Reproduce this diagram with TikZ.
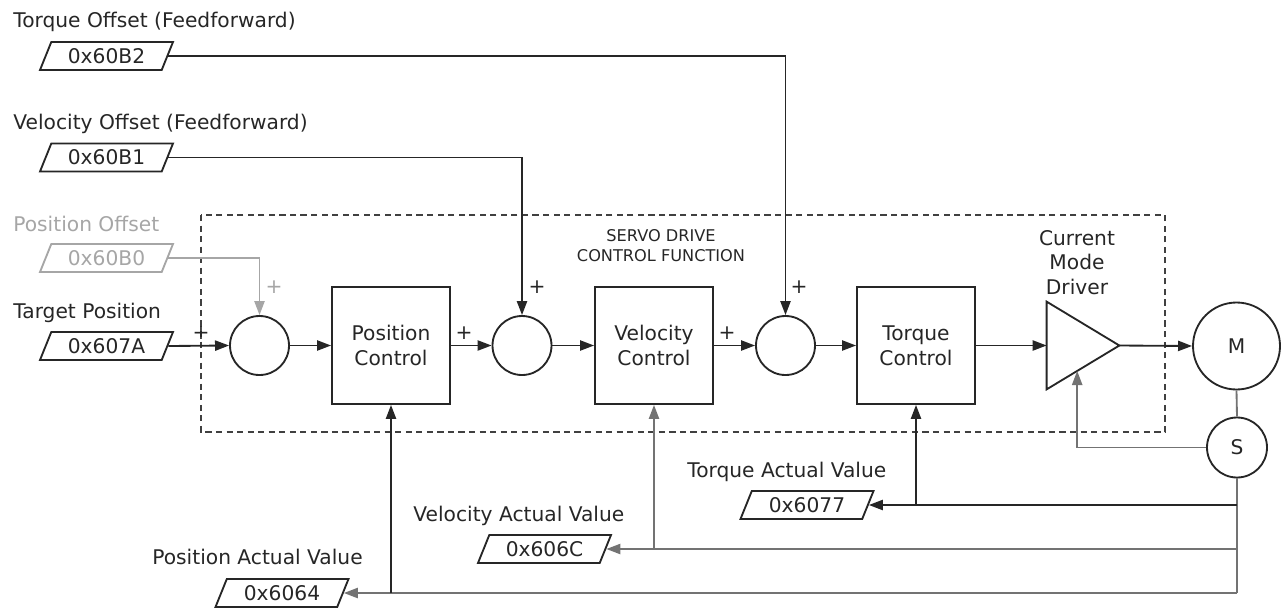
\documentclass[tikz,border=0pt]{standalone}
\usepackage{fontspec}
\setmainfont{DejaVu Sans}
\usetikzlibrary{arrows.meta,positioning,shapes.geometric,calc}

\begin{document}
\begin{tikzpicture}[
  x=0.2mm, y=-0.2mm,
  font=\fontsize{11.5}{14}\selectfont,
  every node/.style={text=black!85},
  hexbox/.style={draw=black!85, line width=1.05pt, trapezium, trapezium left angle=59, trapezium right angle=121, trapezium stretches body, minimum width=2.66cm, minimum height=0.56cm, inner sep=1pt},
  ctrlbox/.style={draw=black!85, line width=1.05pt, align=center, minimum width=2.36cm, minimum height=2.34cm},
  sumnode/.style={draw=black!85, line width=1.05pt, circle, minimum size=1.18cm, inner sep=0pt},
  pluslbl/.style={inner sep=0pt},
  lbl/.style={anchor=base west, inner sep=0pt},
  sig/.style={line width=1.05pt, draw=black!85},
  fbg/.style={line width=1.05pt, draw=black!55},
  >={Triangle[length=8pt,width=5.8pt]}
]
  \useasboundingbox (0,0) rectangle (1283,608);

  % servo drive frame
  \draw[black!75, line width=1.2pt, dash pattern=on 3.5pt off 2.5pt] (201,215) rectangle (1165,432);
  \node[font=\fontsize{9.2}{11.3}\selectfont, align=center, inner sep=0pt] (title) at (661,246) {SERVO DRIVE\\CONTROL FUNCTION};

  % inputs
  \node[lbl] (tofslbl) at (13,27) {Torque Offset (Feedforward)};
  \node[hexbox] (tofs) at (106.5,56) {0x60B2};
  \node[lbl] (vofslbl) at (13,129) {Velocity Offset (Feedforward)};
  \node[hexbox] (vofs) at (106.5,157.5) {0x60B1};
  \node[lbl, text=black!35] (pofslbl) at (13,231) {Position Offset};
  \node[hexbox, draw=black!35, text=black!35] (pofs) at (106.5,258) {0x60B0};
  \node[lbl] (tposlbl) at (13,318) {Target Position};
  \node[hexbox] (tpos) at (106.5,346) {0x607A};

  % forward path
  \node[sumnode] (sum1) at (259.5,345.5) {};
  \node[ctrlbox] (pc) at (391,345.5) {Position\\Control};
  \node[sumnode] (sum2) at (522,345.5) {};
  \node[ctrlbox] (vc) at (654,345.5) {Velocity\\Control};
  \node[sumnode] (sum3) at (785.5,345.5) {};
  \node[ctrlbox] (tc) at (916,345.5) {Torque\\Control};
  \node[inner sep=0pt, minimum width=1.44cm, minimum height=1.74cm] (drv) at (1083,345.5) {};
  \draw[sig] (drv.north west) -- (drv.east) -- (drv.south west) -- cycle;
  \node[align=center, inner sep=0pt] (drvlbl) at (1077,262.5) {Current\\Mode\\Driver};
  \node[draw=black!85, line width=1.05pt, circle, minimum size=1.74cm, inner sep=0pt] (mot) at (1236.5,346) {M};
  \node[draw=black!85, line width=1.05pt, circle, minimum size=1.2cm, inner sep=0pt] (sen) at (1237,447.5) {S};

  % signs
  \node[pluslbl] (p1) at (201,333) {+};
  \node[pluslbl, text=black!35] (p2) at (274,287) {+};
  \node[pluslbl] (p3) at (464,333) {+};
  \node[pluslbl] (p4) at (537,287) {+};
  \node[pluslbl] (p5) at (727,333) {+};
  \node[pluslbl] (p6) at (799,287) {+};

  % actual values
  \node[lbl] (tactlbl) at (687,477) {Torque Actual Value};
  \node[hexbox] (tact) at (807,505) {0x6077};
  \node[lbl] (vactlbl) at (413,521) {Velocity Actual Value};
  \node[hexbox] (vact) at (544.5,549) {0x606C};
  \node[lbl] (pactlbl) at (152,564) {Position Actual Value};
  \node[hexbox] (pact) at (282,593) {0x6064};

  \coordinate (fbk) at ($(drv.south west)!0.42!(drv.east)$);
  \coordinate (tfb) at (sen.south |- tact.east);
  \coordinate (vfb) at (sen.south |- vact.east);
  \coordinate (pfb) at (sen.south |- pact.east);

  \draw[sig, ->] (tofs.east) -| (sum3.north);
  \draw[sig, ->] (vofs.east) -| (sum2.north);
  \draw[sig, draw=black!35, ->] (pofs.east) -| (sum1.north);
  \draw[sig, ->] (tpos.east) -- (sum1.west);
  \draw[sig, ->] (sum1) -- (pc);
  \draw[sig, ->] (pc) -- (sum2);
  \draw[sig, ->] (sum2) -- (vc);
  \draw[sig, ->] (vc) -- (sum3);
  \draw[sig, ->] (sum3) -- (tc);
  \draw[sig, ->] (tc.east) -- (drv.west);
  \draw[sig, ->] (drv.east) -- (mot.west);

  \draw[fbg] (mot.south) -- (sen.north);
  \draw[fbg, ->] (sen.west) -| (fbk);
  \draw[fbg] (sen.south) -- (pfb);
  \draw[sig, ->] (tfb) -- (tact.east);
  \draw[sig, ->] (tc.south |- tact.east) -- (tc.south);
  \draw[fbg, ->] (vfb) -- (vact.east);
  \draw[fbg, ->] (vc.south |- vact.east) -- (vc.south);
  \draw[fbg, ->] (pfb) -- (pact.east);
  \draw[sig, ->] (pc.south |- pact.east) -- (pc.south);
\end{tikzpicture}
\end{document}
